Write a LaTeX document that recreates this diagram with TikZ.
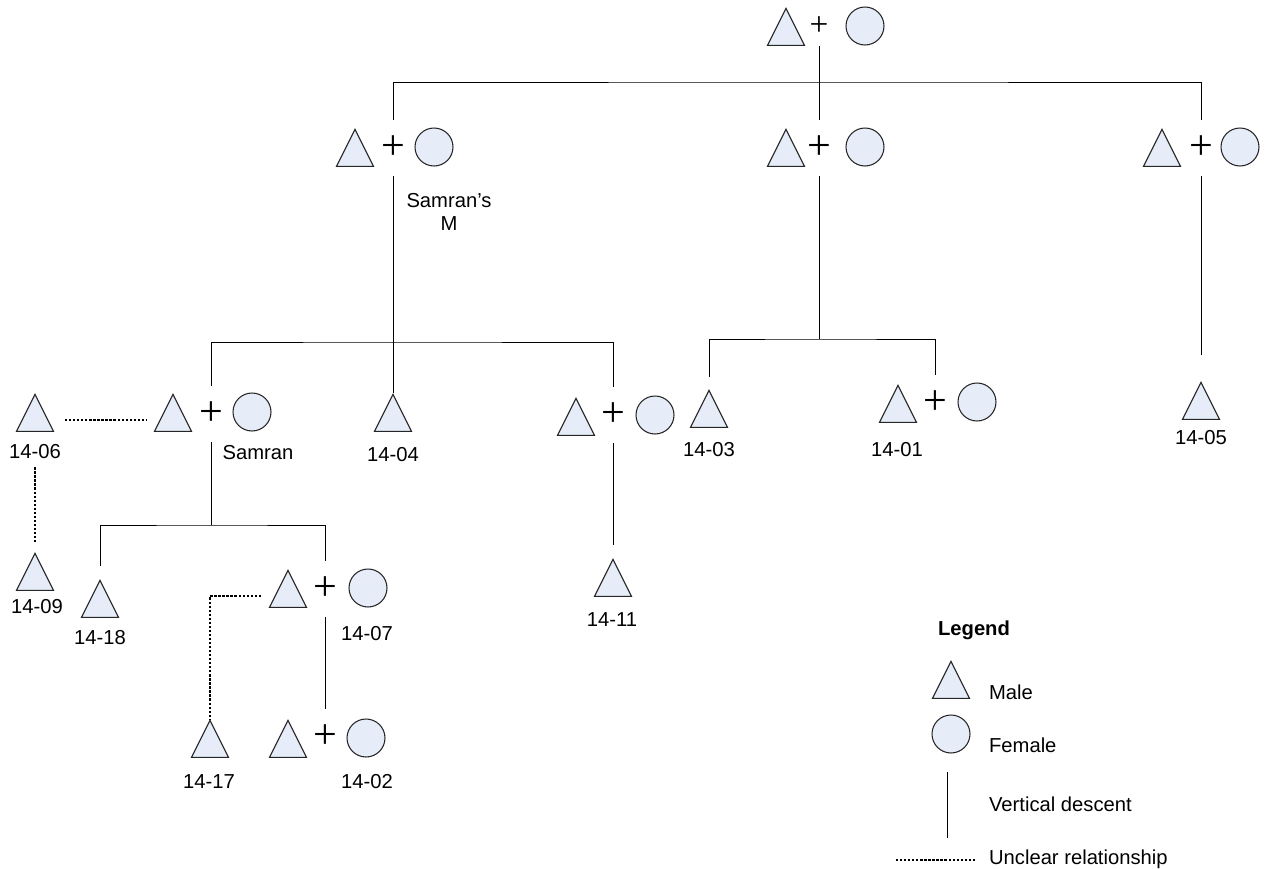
\documentclass[tikz,border=0pt]{standalone}
\usepackage{fontspec}
\setmainfont{Liberation Sans}
\newfontfamily\plusfont{Liberation Serif}
\usetikzlibrary{shapes.geometric}
\definecolor{kinfill}{HTML}{E6ECF8}

\begin{document}
\begin{tikzpicture}[
  x=0.02cm, y=-0.02cm,
  font=\fontsize{11.5}{13.5}\selectfont,
  line/.style    = {draw=black, line width=0.55pt},
  unclear/.style = {draw=black, line width=0.7pt, dash pattern=on 1.3pt off 1pt},
  male/.style    = {isosceles triangle, isosceles triangle stretches,
                    shape border rotate=90, minimum width=0.74cm, minimum height=0.74cm,
                    inner sep=0pt, draw=black!85, line width=0.6pt, fill=kinfill, anchor=apex},
  female/.style  = {circle, minimum size=0.76cm, inner sep=0pt,
                    draw=black!85, line width=0.6pt, fill=kinfill},
  union/.style   = {inner sep=0pt, minimum height=1.1cm, font=\plusfont\fontsize{24}{24}\selectfont},
  lbl/.style     = {inner sep=1pt},
]
\useasboundingbox (0,0) rectangle (1269,869);

% ---- grandparents ----------------------------------------------------------
\node[male]   (m0) at (786,7)   {};
\node[union, minimum height=0.8cm, font=\plusfont\fontsize{19}{19}\selectfont] (c0) at (819,26) {+};
\node[female] (f0) at (865,26)  {};

% ---- second generation -----------------------------------------------------
\node[male]   (mA) at (355,128)  {};
\node[union]  (cA) at (393,148)  {+};
\node[female] (fA) at (434,147)  {};
\node[lbl, align=center] (lA) at (449,212) {Samran’s\\M};

\node[male]   (mB) at (786,128)  {};
\node[union]  (cB) at (819,148)  {+};
\node[female] (fB) at (865,147)  {};

\node[male]   (mC) at (1162,128) {};
\node[union]  (cC) at (1201,148) {+};
\node[female] (fC) at (1240,147) {};

\coordinate (bar0) at (819,82);
\draw[line] (c0) -- (cB);
\draw[line] (cA.north) |- (bar0) -| (cC.north);

% ---- third generation ------------------------------------------------------
\node[male]   (m06) at (35,393)  {};
\node[lbl]    (l06) at (35,452)  {14-06};

\node[male]   (mS) at (173,393)  {};
\node[union]  (cS) at (211,414)  {+};
\node[female] (fS) at (252,412)  {};
\node[lbl]    (lS) at (258,453)  {Samran};

\node[male]   (m04) at (393,393) {};
\node[lbl]    (l04) at (393,455) {14-04};

\node[male]   (mD) at (576,397)  {};
\node[union]  (cD) at (613,415)  {+};
\node[female] (fD) at (655,415)  {};

\node[male]   (m03) at (709,389) {};
\node[lbl]    (l03) at (709,450) {14-03};

\node[male]   (m01) at (898,384) {};
\node[union]  (c01) at (935,403) {+};
\node[female] (f01) at (977,402) {};
\node[lbl]    (l01) at (897,450) {14-01};

\node[male]   (m05) at (1201,381) {};
\node[lbl]    (l05) at (1201,438) {14-05};

\coordinate (bar1) at (393,342);
\coordinate (bar2) at (819,339);
\draw[line] (cA.south) -- (m04.apex);
\draw[line] (cS.north) |- (bar1) -| (cD.north);
\draw[line] (cB.south) -- (bar2);
\draw[line, shorten <=0.24cm] (m03.apex) |- (bar2) -| (c01.north);
\draw[line, shorten >=0.52cm] (cC.south) -- (m05.apex);

\draw[unclear, shorten <=0.6cm, shorten >=0.52cm] (m06.center) -- (mS.center);

% ---- fourth and fifth generation -------------------------------------------
\node[male]   (m09) at (35,552)  {};
\node[lbl]    (l09) at (37,607)  {14-09};

\node[male]   (m18) at (100,579) {};
\node[lbl]    (l18) at (100,638) {14-18};

\node[male]   (m07) at (288,569) {};
\node[union]  (c07) at (325,589) {+};
\node[female] (f07) at (368,588) {};
\node[lbl]    (l07) at (367,634) {14-07};

\node[male]   (m11) at (613,558) {};
\node[lbl]    (l11) at (612,620) {14-11};

\node[male]   (m17) at (210,719) {};
\node[lbl]    (l17) at (209,782) {14-17};

\node[male]   (m02) at (288,719) {};
\node[union]  (c02) at (325,737) {+};
\node[female] (f02) at (366,738) {};
\node[lbl]    (l02) at (367,782) {14-02};

\coordinate (bar3) at (211,525);
\draw[line] (cS.south) -- (bar3);
\draw[line, shorten <=0.26cm] (m18.apex) |- (bar3) -| (c07.north);
\draw[line] (c07.south) -- (c02.north);
\draw[line, shorten >=0.26cm] (cD.south) -- (m11.apex);

\draw[unclear, shorten <=0.12cm, shorten >=0.2cm] (l06) -- (m09.apex);
\draw[unclear, shorten <=0.54cm] (m07.center) -| (m17.apex);

% ---- legend ----------------------------------------------------------------
\node[lbl, font=\fontsize{11.5}{13.5}\selectfont\bfseries] (lg) at (974,630) {Legend};
\node[male]   (lgM) at (951,660) {};
\node[lbl, anchor=west] (lgMt) at (987,692) {Male};
\node[female] (lgF) at (951,734) {};
\node[lbl, anchor=west] (lgFt) at (987,745) {Female};
\coordinate (vdT) at (947,772);
\coordinate (vdB) at (947,838);
\draw[line] (vdT) -- (vdB);
\node[lbl, anchor=west] (lgV) at (987,804) {Vertical descent};
\node[lbl, anchor=west] (lgU) at (987,859) {Unclear relationship};
\coordinate (ucL) at (896,860);
\draw[unclear, shorten >=0.24cm] (ucL) -- (ucL -| lgU.west);

\end{tikzpicture}
\end{document}
